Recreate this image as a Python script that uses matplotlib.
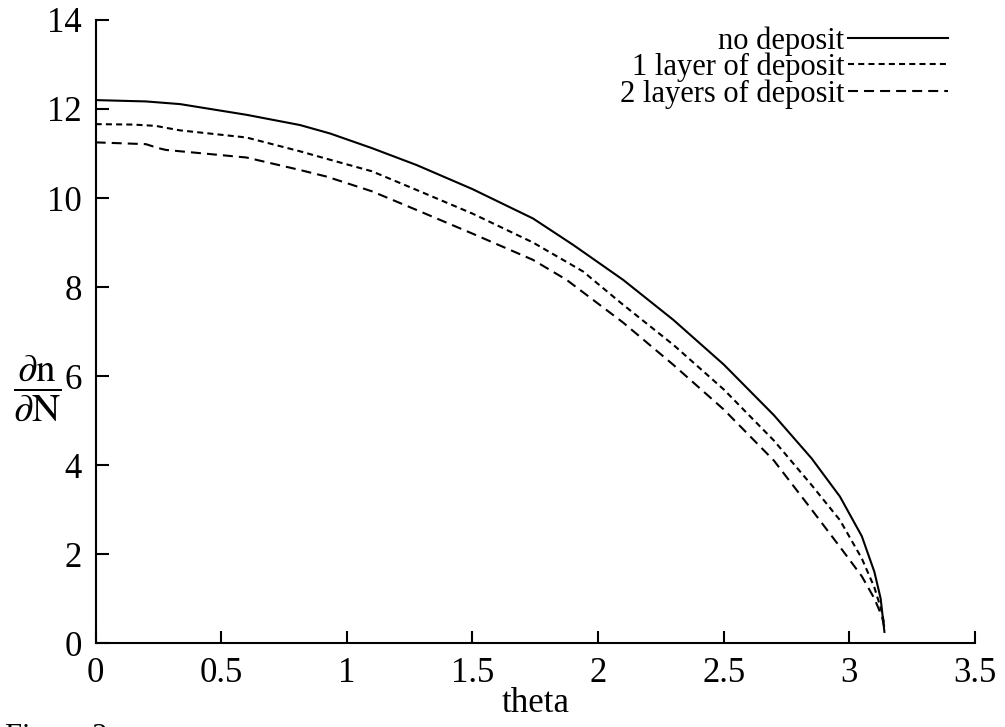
import matplotlib
matplotlib.use("Agg")
import matplotlib.pyplot as plt

plt.rcParams['font.family'] = ['Liberation Serif', 'DejaVu Serif']
plt.rcParams['mathtext.fontset'] = 'stix'

# --- data ---
theta_none = [0, 0.2, 0.336, 0.6, 0.813, 0.933, 1.1, 1.278, 1.5, 1.741, 1.9, 2.1,
              2.3, 2.5, 2.7, 2.85, 2.963, 3.05, 3.1, 3.125, 3.14]
val_none = [12.2, 12.17, 12.11, 11.87, 11.64, 11.45, 11.12, 10.74, 10.2, 9.54, 8.95, 8.16,
            7.26, 6.26, 5.12, 4.15, 3.29, 2.4, 1.6, 1.0, 0.25]

theta_one = [0, 0.15, 0.24, 0.277, 0.336, 0.6, 0.813, 0.92, 1.1, 1.278, 1.5, 1.741, 1.94,
             2.1, 2.3, 2.5, 2.7, 2.85, 2.963, 3.05, 3.1, 3.13, 3.14]
val_one = [11.66, 11.65, 11.62, 11.58, 11.52, 11.36, 11.05, 10.88, 10.6, 10.18, 9.65, 9.0, 8.35,
           7.6, 6.7, 5.7, 4.55, 3.55, 2.76, 1.9, 1.25, 0.7, 0.4]

theta_two = [0, 0.2, 0.25, 0.28, 0.6, 0.813, 0.92, 1.1, 1.278, 1.5, 1.741, 1.875,
             2.1, 2.3, 2.5, 2.7, 2.85, 2.963, 3.05, 3.1, 3.13, 3.14]
val_two = [11.25, 11.21, 11.12, 11.08, 10.91, 10.63, 10.48, 10.15, 9.73, 9.2, 8.61, 8.16,
           7.2, 6.25, 5.25, 4.1, 3.0, 2.16, 1.5, 1.0, 0.6, 0.35]

labels = ['no deposit', '1 layer of deposit', '2 layers of deposit']
x_ticks = [0, 0.5, 1, 1.5, 2, 2.5, 3, 3.5]
x_ticklabels = ['0', '0.5', '1', '1.5', '2', '2.5', '3', '3.5']
y_ticks = [0, 2, 4, 6, 8, 10, 12, 14]

fig = plt.figure(figsize=(10.05, 7.27), dpi=100)
ax = fig.add_axes([0.0952, 0.1155, 0.8748, 0.857])

lw = 1.5
ax.plot(theta_none, val_none, color='black', lw=lw, linestyle='-', label=labels[0])
ax.plot(theta_one, val_one, color='black', lw=lw, linestyle=(0, (2.9, 2.0)), label=labels[1])
ax.plot(theta_two, val_two, color='black', lw=lw, linestyle=(0, (4.8, 2.9)), label=labels[2])

ax.set_xlim(0, 3.5)
ax.set_ylim(0, 14)
ax.set_xticks(x_ticks)
ax.set_xticklabels(x_ticklabels)
ax.set_yticks(y_ticks)
for s in ['top', 'right']:
    ax.spines[s].set_visible(False)
for s in ['left', 'bottom']:
    ax.spines[s].set_linewidth(1.5)
ax.tick_params(direction='in', length=9, width=1.5, labelsize=25, pad=10)

ax.set_xlabel('theta', fontsize=25, labelpad=-2)
ax.set_ylabel(r'$\dfrac{\partial\mathrm{n}}{\partial\mathrm{N}}$', fontsize=28, rotation=0)
ax.yaxis.set_label_coords(-0.066, 0.41)
ax.yaxis.label.set_va('center')

leg = ax.legend(loc='upper right', bbox_to_anchor=(0.97, 0.99), frameon=False,
                markerfirst=False, fontsize=22, handlelength=3.3, handletextpad=0.1,
                labelspacing=-0.1, borderpad=0, borderaxespad=0)

fig.text(0.005, 1 - 723 / 727, 'Figure 2', fontsize=22, va='top', ha='left')

fig.savefig('out.png', dpi=100)
